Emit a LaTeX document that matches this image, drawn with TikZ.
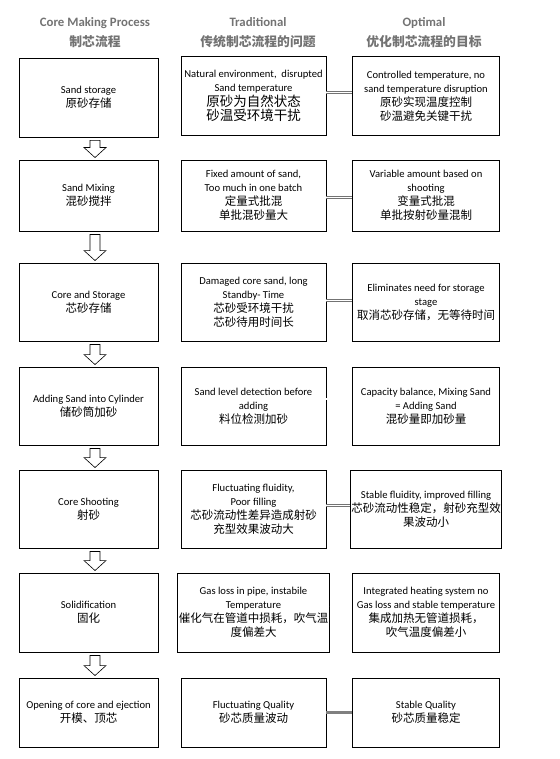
\documentclass[tikz,border=0pt]{standalone}
\usepackage{fontspec}
\setmainfont{Carlito}
\newfontfamily\cjk{Noto Sans CJK SC}
\usetikzlibrary{calc}

\tikzset{
  procbox/.style={draw, line width=0.9pt, align=center, inner sep=1pt, font=\fontsize{10.6}{14}\selectfont},
  headtext/.style={align=center, text=black!55, font=\bfseries\fontsize{12.8}{20}\selectfont},
  flowarrow/.style={draw, line width=0.6pt, fill=white, line join=miter},
  pairline/.style={draw=black!55, double=white, line width=0.8pt, double distance=1.2pt},
}
\newcommand{\zh}[1]{{\cjk\fontsize{11.5}{14}\selectfont #1}}
\newcommand{\zhbig}[1]{{\cjk\fontsize{13.5}{15}\selectfont #1}}

\begin{document}
\begin{tikzpicture}[x=1pt,y=-1pt]
\useasboundingbox (0,0) rectangle (559,759);
% headers
\node [headtext] (h1) at (95,33) {Core Making Process\\{\cjk 制芯流程}};
\node [headtext] (h2) at (258,33) {Traditional\\{\cjk 传统制芯流程的问题}};
\node [headtext] (h3) at (424,33) {Optimal\\{\cjk 优化制芯流程的目标}};
% process column
\node [procbox, minimum width=139, minimum height=79] (p1) at (88.5,97.5) {Sand storage\\\zh{原砂存储}};
\node [procbox, minimum width=139, minimum height=71] (p2) at (88.5,195.5) {Sand Mixing\\\zh{混砂搅拌}};
\node [procbox, minimum width=139, minimum height=78] (p3) at (88.5,302) {Core and Storage\\\zh{芯砂存储}};
\node [procbox, minimum width=139, minimum height=78] (p4) at (88.5,406) {Adding Sand into Cylinder\\\zh{储砂筒加砂}};
\node [procbox, minimum width=139, minimum height=78] (p5) at (88.5,509) {Core Shooting\\\zh{射砂}};
\node [procbox, minimum width=139, minimum height=79] (p6) at (88.5,612.5) {Solidification\\\zh{固化}};
\node [procbox, minimum width=139, minimum height=69] (p7) at (88.5,712.5) {Opening of core and ejection\\\zh{开模、顶芯}};
% traditional column
\node [procbox, minimum width=145, minimum height=79] (t1) at (253.5,96) {Natural environment,~ disrupted\\Sand temperature\\[1pt]\zhbig{原砂为自然状态}\\\zhbig{砂温受环境干扰}};
\node [procbox, minimum width=145, minimum height=71] (t2) at (253.5,195.5) {Fixed amount of sand,\\Too much in one batch\\\zh{定量式批混}\\\zh{单批混砂量大}};
\node [procbox, minimum width=145, minimum height=78] (t3) at (253.5,302) {Damaged core sand, long\\Standby- Time\\\zh{芯砂受环境干扰}\\\zh{芯砂待用时间长}};
\node [procbox, minimum width=145, minimum height=78] (t4) at (253.5,406) {Sand level detection before\\adding\\\zh{料位检测加砂}};
\node [procbox, minimum width=145, minimum height=78] (t5) at (253.5,509) {Fluctuating fluidity,\\Poor filling\\\zh{芯砂流动性差异造成射砂}\\\zh{充型效果波动大}};
\node [procbox, minimum width=145, minimum height=79] (t6) at (253.5,612.5) {Gas loss in pipe, instabile\\Temperature\\\zh{催化气在管道中损耗，吹气温}\\\zh{度偏差大}};
\node [procbox, minimum width=145, minimum height=69] (t7) at (253.5,712.5) {Fluctuating Quality\\\zh{砂芯质量波动}};
% optimal column
\node [procbox, minimum width=147, minimum height=79] (o1) at (426,96) {Controlled temperature, no\\sand temperature disruption\\\zh{原砂实现温度控制}\\\zh{砂温避免关键干扰}};
\node [procbox, minimum width=147, minimum height=71] (o2) at (426,195.5) {Variable amount based on\\shooting\\\zh{变量式批混}\\\zh{单批按射砂量混制}};
\node [procbox, minimum width=147, minimum height=78] (o3) at (426,302) {Eliminates need for storage\\stage\\\zh{取消芯砂存储，无等待时间}};
\node [procbox, minimum width=147, minimum height=78] (o4) at (426,406) {Capacity balance, Mixing Sand\\= Adding Sand\\\zh{混砂量即加砂量}};
\node [procbox, minimum width=147, minimum height=78] (o5) at (426,509) {Stable fluidity, improved filling\\\zh{芯砂流动性稳定，射砂充型效}\\\zh{果波动小}};
\node [procbox, minimum width=147, minimum height=79] (o6) at (426,612.5) {Integrated heating system no\\Gas loss and stable temperature\\\zh{集成加热无管道损耗，}\\\zh{吹气温度偏差小}};
\node [procbox, minimum width=147, minimum height=69] (o7) at (426,712.5) {Stable Quality\\\zh{砂芯质量稳定}};
% hollow arrows down the process column
\foreach \a/\b in {p1/p2,p2/p3,p3/p4,p4/p5,p5/p6,p6/p7}
  \draw [flowarrow] let \p1=(\a.south), \p2=(\b.north) in
    (\x1+1.5pt,\y1-3pt) -- (\x1+11.5pt,\y1-3pt) -- (\x1+11.5pt,\y2+12pt) -- (\x1+17.5pt,\y2+12pt)
    -- (\x1+6.5pt,\y2+2pt) -- (\x1-4.5pt,\y2+12pt) -- (\x1+1.5pt,\y2+12pt) -- cycle;
% links traditional -> optimal
\foreach \r/\dy in {1/3.5,2/-2,3/1.5,4/7,5/3.5,6/5.5}
  \draw [pairline] ([yshift=\dy pt]t\r.east) -- ([yshift=\dy pt]o\r.west);
\draw [draw=black!50, line width=3pt] (t7.east) -- (o7.west);
\end{tikzpicture}
\end{document}
